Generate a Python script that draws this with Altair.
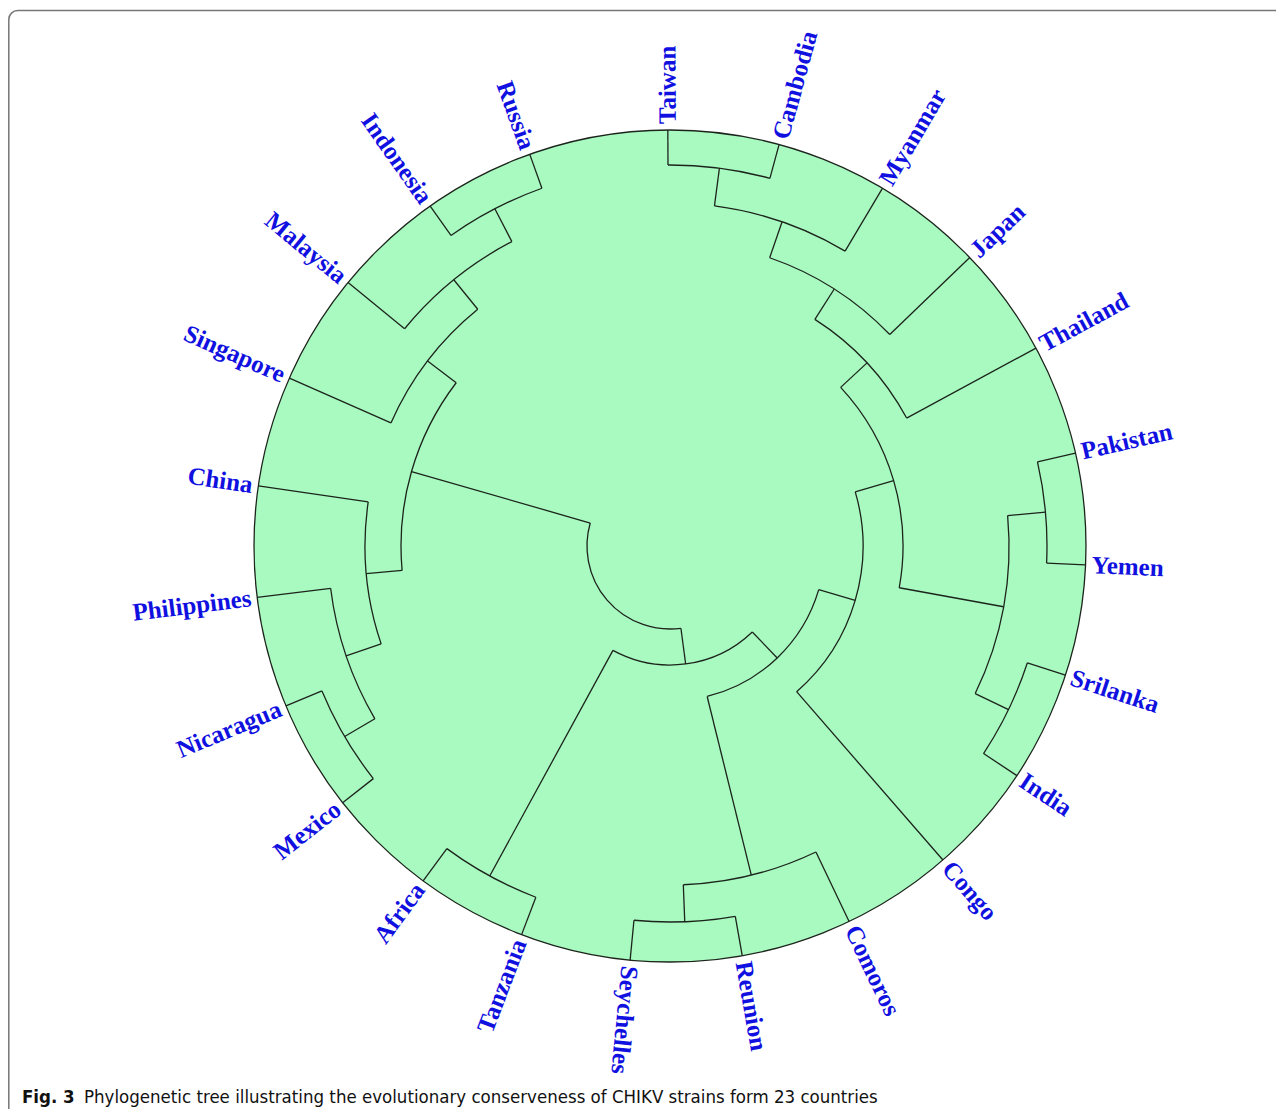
import math
import pandas as pd
import altair as alt

# ---------------- data ----------------
leaves = ["Taiwan", "Cambodia", "Myanmar", "Japan", "Thailand", "Pakistan", "Yemen",
          "Srilanka", "India", "Congo", "Comoros", "Reunion", "Seychelles", "Tanzania",
          "Africa", "Mexico", "Nicaragua", "Philippines", "China", "Singapore",
          "Malaysia", "Indonesia", "Russia"]
# compass angle of each leaf (degrees, clockwise from 12 o'clock)
leaf_angles = [-0.3, 15.2, 30.7, 46.1, 61.6, 77.1, 92.6, 108.1, 123.5, 139.0, 154.5,
               170.0, 185.5, 200.9, 216.4, 231.9, 247.4, 262.9, 278.3, 293.8, 309.3,
               324.8, 340.3]
# labels whose text reads outward from the circle (others read inward)
outward_labels = ["Taiwan", "Cambodia", "Myanmar", "Japan", "Thailand", "Pakistan",
                  "Yemen", "Srilanka", "India", "Congo", "Comoros", "Reunion", "Seychelles"]

# internal nodes: name, child a, child b, radius of the join
node_names = ["n_tc", "n_tcm", "n_tcmj", "n_top", "n_py", "n_si", "n_pysi", "n_233",
              "n_193", "n_rs", "n_crs", "n_155", "n_ta", "n_119", "n_ir", "n_mir",
              "n_smir", "n_nm", "n_pnm", "n_cpnm", "n_left", "root"]
child_a = ["Taiwan", "n_tc", "n_tcm", "n_tcmj", "Pakistan", "Srilanka", "n_py", "n_top",
           "n_233", "Reunion", "Comoros", "n_193", "Tanzania", "n_155", "Indonesia",
           "Malaysia", "Singapore", "Nicaragua", "Philippines", "China", "n_smir", "n_119"]
child_b = ["Cambodia", "Myanmar", "Japan", "Thailand", "Yemen", "India", "n_si", "n_pysi",
           "Congo", "Seychelles", "n_rs", "n_crs", "Africa", "n_ta", "Russia", "n_ir",
           "n_mir", "Mexico", "n_nm", "n_pnm", "n_cpnm", "n_left"]
node_radius = [381, 343, 305, 269, 377, 376, 339, 233, 193, 376, 339, 155, 376, 119,
               380, 343, 305, 377, 342, 305, 269, 83]

disk_radius = 416
label_offset = 6

# ---------------- layout tables ----------------
ang = dict(zip(leaves, leaf_angles))
rad = {n: disk_radius for n in leaves}
arcs, segs = [], []
for n, a, b, r in zip(node_names, child_a, child_b, node_radius):
    ang[n] = (ang[a] + ang[b]) / 2.0
    rad[n] = r
    arcs.append({"node": n, "t0": min(ang[a], ang[b]), "t1": max(ang[a], ang[b]), "r": r})
    for c in (a, b):
        segs.append({"child": c, "angle": ang[c], "r0": r, "r1": rad[c]})

arcs_df = pd.DataFrame(arcs)
segs_df = pd.DataFrame(segs)
labels_df = pd.DataFrame({"name": leaves, "angle": leaf_angles})
labels_df["outward"] = labels_df["name"].isin(outward_labels)
disk_df = pd.DataFrame({"t0": [0], "t1": [360], "r": [disk_radius]})

W, H = 1268, 1101
CX, CY = 662, 538  # disk centre in plot pixels
xs = alt.Scale(domain=[-CX, W - CX], nice=False, zero=False)
ys = alt.Scale(domain=[-(H - CY), CY], nice=False, zero=False)
ts = alt.Scale(domain=[0, 360], range=[0, 2 * math.pi])
rs = alt.Scale(type="linear", domain=[0, 500], range=[0, 500], zero=True)

GREEN = "#a8fac0"
LINE = "#1c241c"
BLUE = "#1010e0"

disk = alt.Chart(disk_df).mark_arc(fill=GREEN, stroke=LINE, strokeWidth=1.3).encode(
    theta=alt.Theta("t0:Q", scale=ts),
    theta2="t1:Q",
    radius=alt.Radius("r:Q", scale=rs),
    x=alt.value(CX), y=alt.value(CY),
)

arc_lines = alt.Chart(arcs_df).mark_arc(filled=False, stroke=LINE, strokeWidth=1.3).encode(
    theta=alt.Theta("t0:Q", scale=ts),
    theta2="t1:Q",
    radius=alt.Radius("r:Q", scale=rs),
    radius2="r:Q",
    x=alt.value(CX), y=alt.value(CY),
)

radial = alt.Chart(segs_df).transform_calculate(
    xa="datum.r0 * sin(datum.angle * PI / 180)",
    ya="datum.r0 * cos(datum.angle * PI / 180)",
    xb="datum.r1 * sin(datum.angle * PI / 180)",
    yb="datum.r1 * cos(datum.angle * PI / 180)",
).mark_rule(color=LINE, strokeWidth=1.3).encode(
    x=alt.X("xa:Q", scale=xs, axis=None),
    y=alt.Y("ya:Q", scale=ys, axis=None),
    x2="xb:Q", y2="yb:Q",
)

def label_layer(outward):
    sign = "-" if outward else "+"
    return alt.Chart(labels_df).transform_filter(
        "datum.outward" if outward else "!datum.outward"
    ).transform_calculate(
        lx=f"{disk_radius + label_offset} * sin(datum.angle * PI / 180)",
        ly=f"{disk_radius + label_offset} * cos(datum.angle * PI / 180)",
        rot=f"(datum.angle {sign} 90 + 720) % 360",
    ).mark_text(
        align="left" if outward else "right", baseline="middle",
        font="Liberation Serif", fontWeight="bold", fontSize=25, color=BLUE,
    ).encode(
        x=alt.X("lx:Q", scale=xs, axis=None),
        y=alt.Y("ly:Q", scale=ys, axis=None),
        text="name:N",
        angle=alt.Angle("rot:Q", scale=None),
    )

cap_df = pd.DataFrame({"a": ["Fig. 3"],
                       "b": ["Phylogenetic tree illustrating the evolutionary conserveness of CHIKV strains form 23 countries"]})
CAPFONT = "DejaVu Sans Condensed, Liberation Sans, sans-serif"
cap1 = alt.Chart(cap_df).mark_text(align="left", baseline="middle", font=CAPFONT,
                                   fontWeight="bold", fontSize=18.5, color="#111").encode(
    x=alt.value(14), y=alt.value(1089), text="a:N")
cap2 = alt.Chart(cap_df).mark_text(align="left", baseline="middle", font=CAPFONT,
                                   fontSize=18.5, color="#111").encode(
    x=alt.value(76), y=alt.value(1089), text="b:N")

border = alt.Chart(disk_df).mark_rect(filled=False, stroke="#777", strokeWidth=1.5,
                                      cornerRadius=9).encode(
    x=alt.value(0.8), x2=alt.value(W + 40), y=alt.value(2.5), y2=alt.value(H + 40))

chart = alt.layer(border, disk, arc_lines, radial, label_layer(True), label_layer(False),
                  cap1, cap2).properties(
    width=W, height=H, padding=0, autosize=alt.AutoSizeParams(type="none")
).configure_view(stroke=None)

chart.save("out.html", embed_options={"renderer": "svg", "actions": False})
